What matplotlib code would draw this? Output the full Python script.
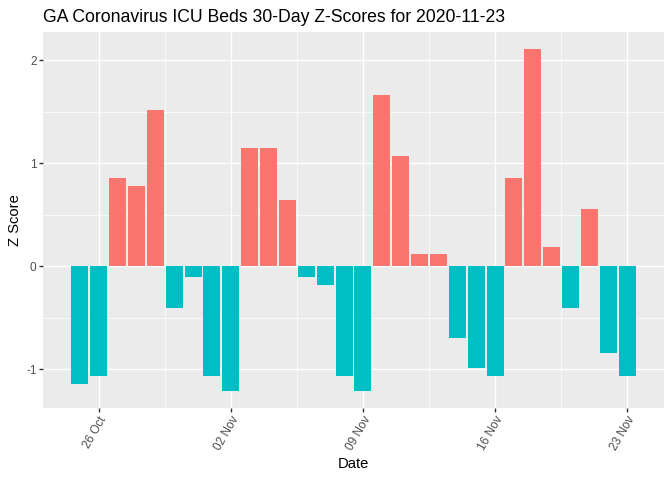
import matplotlib
matplotlib.use("Agg")
import matplotlib.pyplot as plt
import matplotlib.dates as mdates
import numpy as np
import pandas as pd

plt.rcParams["font.family"] = ["Liberation Sans", "DejaVu Sans"]

# data
start_date = "2020-10-25"
end_date = "2020-11-23"
z_scores = [
    -1.14, -1.07, 0.86, 0.78, 1.52, -0.40, -0.10, -1.07, -1.21, 1.15,
    1.15, 0.64, -0.10, -0.18, -1.07, -1.21, 1.665, 1.07, 0.12, 0.12,
    -0.70, -0.99, -1.07, 0.86, 2.11, 0.19, -0.40, 0.555, -0.845, -1.07,
]
tick_dates = ["2020-10-26", "2020-11-02", "2020-11-09", "2020-11-16", "2020-11-23"]
minor_dates = ["2020-10-29 12:00", "2020-11-05 12:00", "2020-11-12 12:00", "2020-11-19 12:00"]
y_major = [-1, 0, 1, 2]
y_minor = [-0.5, 0.5, 1.5]

POS = "#F8766D"
NEG = "#00BFC4"

dates = pd.date_range(start_date, end_date, freq="D")
x = mdates.date2num(dates.to_pydatetime())
z = np.array(z_scores)
colors = [POS if v > 0 else NEG for v in z]

fig = plt.figure(figsize=(6.72, 4.8), dpi=100)
ax = fig.add_axes([43 / 672, 72 / 480, 621 / 672, 376 / 480])
ax.set_facecolor("#EBEBEB")

ax.bar(x, z, width=0.9, color=colors, linewidth=0, zorder=3)

# ggplot style expansion
xlo, xhi = x.min() - 0.45, x.max() + 0.45
xpad = (xhi - xlo) * 0.05
ax.set_xlim(xlo - xpad, xhi + xpad)
ypad = (z.max() - z.min()) * 0.05
ax.set_ylim(z.min() - ypad, z.max() + ypad)

major_x = mdates.date2num(pd.to_datetime(tick_dates).to_pydatetime())
minor_x = mdates.date2num(pd.to_datetime(minor_dates).to_pydatetime())
ax.set_xticks(major_x)
ax.set_xticklabels(pd.to_datetime(tick_dates).strftime("%d %b"))
ax.set_xticks(minor_x, minor=True)
ax.set_yticks(y_major)
ax.set_yticklabels([str(v) for v in y_major])
ax.set_yticks(y_minor, minor=True)

ax.grid(which="major", color="white", linewidth=1.0, zorder=1)
ax.grid(which="minor", color="white", linewidth=0.5, zorder=1)
ax.set_axisbelow(True)
for s in ax.spines.values():
    s.set_visible(False)

ax.tick_params(which="major", length=2.6, width=1.0, color="#333333",
               labelcolor="#4D4D4D", labelsize=8.45, pad=2)
ax.tick_params(which="minor", length=0)
for lab in ax.get_xticklabels():
    lab.set_rotation(60)
    lab.set_ha("right")
    lab.set_va("top")
    lab.set_rotation_mode("anchor")

ax.set_xlabel("Date", fontsize=10.6, labelpad=3)
ax.set_ylabel("Z Score", fontsize=10.6, labelpad=3)
ax.set_title("GA Coronavirus ICU Beds 30-Day Z-Scores for 2020-11-23",
             fontsize=12.7, loc="left", pad=7)

fig.savefig("out.png", dpi=100)
plt.close(fig)
